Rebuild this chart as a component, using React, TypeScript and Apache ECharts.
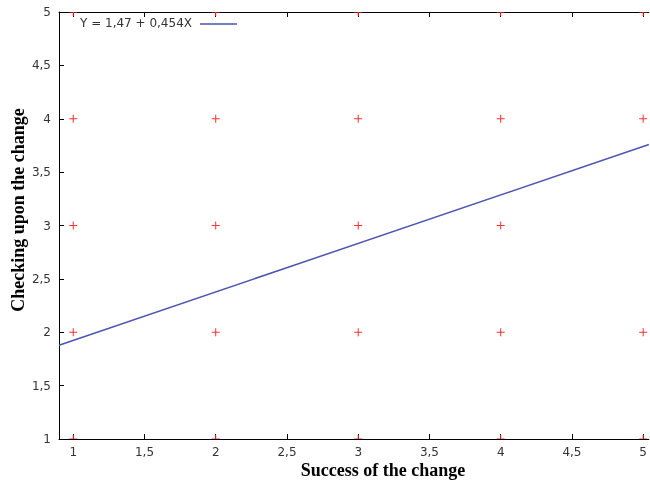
import React, { useEffect, useRef } from "react";
import * as echarts from "echarts";

const xTicks = [1, 1.5, 2, 2.5, 3, 3.5, 4, 4.5, 5];
const pointsX = [1, 2, 3, 4, 5, 1, 2, 3, 4, 5, 1, 2, 3, 4, 1, 2, 3, 4, 5, 1, 2, 3, 4, 5];
const pointsY = [5, 5, 5, 5, 5, 4, 4, 4, 4, 4, 3, 3, 3, 3, 2, 2, 2, 2, 2, 1, 1, 1, 1, 1];
const lineX = [0.9, 5.04];
const lineY = [1.879, 3.758];
const legendText = "Y = 1,47 + 0,454X";
const xTitle = "Success of the change";
const yTitle = "Checking upon the change";

const fmt = (v: number) => String(v).replace(".", ",");

export default function App() {
  const ref = useRef<HTMLDivElement>(null);
  useEffect(() => {
    if (!ref.current) return;
    document.body.style.margin = "0";
    document.body.style.overflow = "hidden";
    const chart = echarts.init(ref.current, undefined, { renderer: "svg" });
    const labelStyle = { fontFamily: "DejaVu Sans", fontSize: 12, color: "#333" };
    chart.setOption({
      animation: false,
      grid: { left: 59, right: 0, top: 12, bottom: 41 },
      xAxis: [
        {
          type: "value",
          min: 0.9,
          max: 5.04,
          position: "bottom",
          splitLine: { show: false },
          axisLine: { lineStyle: { color: "#000", width: 1 } },
          axisTick: { inside: true, length: 5, customValues: xTicks, lineStyle: { color: "#000" } },
          axisLabel: { ...labelStyle, margin: 7, customValues: xTicks, formatter: fmt },
        },
        {
          type: "value",
          min: 0.9,
          max: 5.04,
          position: "top",
          splitLine: { show: false },
          axisLine: { lineStyle: { color: "#000", width: 1 } },
          axisTick: { inside: true, length: 5, customValues: xTicks, lineStyle: { color: "#000" } },
          axisLabel: { show: false },
        },
      ],
      yAxis: {
        type: "value",
        min: 1,
        max: 5,
        interval: 0.5,
        splitLine: { show: false },
        axisLine: { show: true, lineStyle: { color: "#000", width: 1 } },
        axisTick: { show: true, inside: true, length: 5, lineStyle: { color: "#000" } },
        axisLabel: { ...labelStyle, margin: 8, formatter: fmt },
      },
      series: [
        {
          type: "line",
          data: lineX.map((x, i) => [x, lineY[i]]),
          symbol: "none",
          lineStyle: { color: "#4a55b0", width: 1.5 },
          z: 2,
        },
        {
          type: "custom",
          clip: true,
          data: pointsX.map((x, i) => [x, pointsY[i]]),
          renderItem: (params: any, api: any) => {
            const p = api.coord([api.value(0), api.value(1)]);
            const s = 4;
            const style = { stroke: "#ff3030", lineWidth: 1 };
            return {
              type: "group",
              children: [
                { type: "line", shape: { x1: p[0] - s, y1: p[1], x2: p[0] + s, y2: p[1] }, style },
                { type: "line", shape: { x1: p[0], y1: p[1] - s, x2: p[0], y2: p[1] + s }, style },
              ],
            };
          },
          z: 3,
        },
      ],
      graphic: [
        {
          type: "text",
          left: 80,
          top: 17,
          style: { text: legendText, fontFamily: "DejaVu Sans", fontSize: 12, fill: "#333" },
        },
        {
          type: "line",
          shape: { x1: 200, y1: 24, x2: 237, y2: 24 },
          style: { stroke: "#4a55b0", lineWidth: 1.5 },
        },
        {
          type: "text",
          x: 383,
          y: 470,
          style: {
            text: xTitle,
            fontFamily: "Liberation Serif",
            fontWeight: "bold",
            fontSize: 18,
            fill: "#000",
            align: "center",
            verticalAlign: "middle",
          },
        },
        {
          type: "text",
          x: 18,
          y: 210,
          rotation: Math.PI / 2,
          style: {
            text: yTitle,
            fontFamily: "Liberation Serif",
            fontWeight: "bold",
            fontSize: 18,
            fill: "#000",
            align: "center",
            verticalAlign: "middle",
          },
        },
      ],
    });
    return () => chart.dispose();
  }, []);
  return (
    <div
      ref={ref}
      style={{ position: "fixed", left: 0, top: 0, width: 650, height: 480 }}
    />
  );
}
